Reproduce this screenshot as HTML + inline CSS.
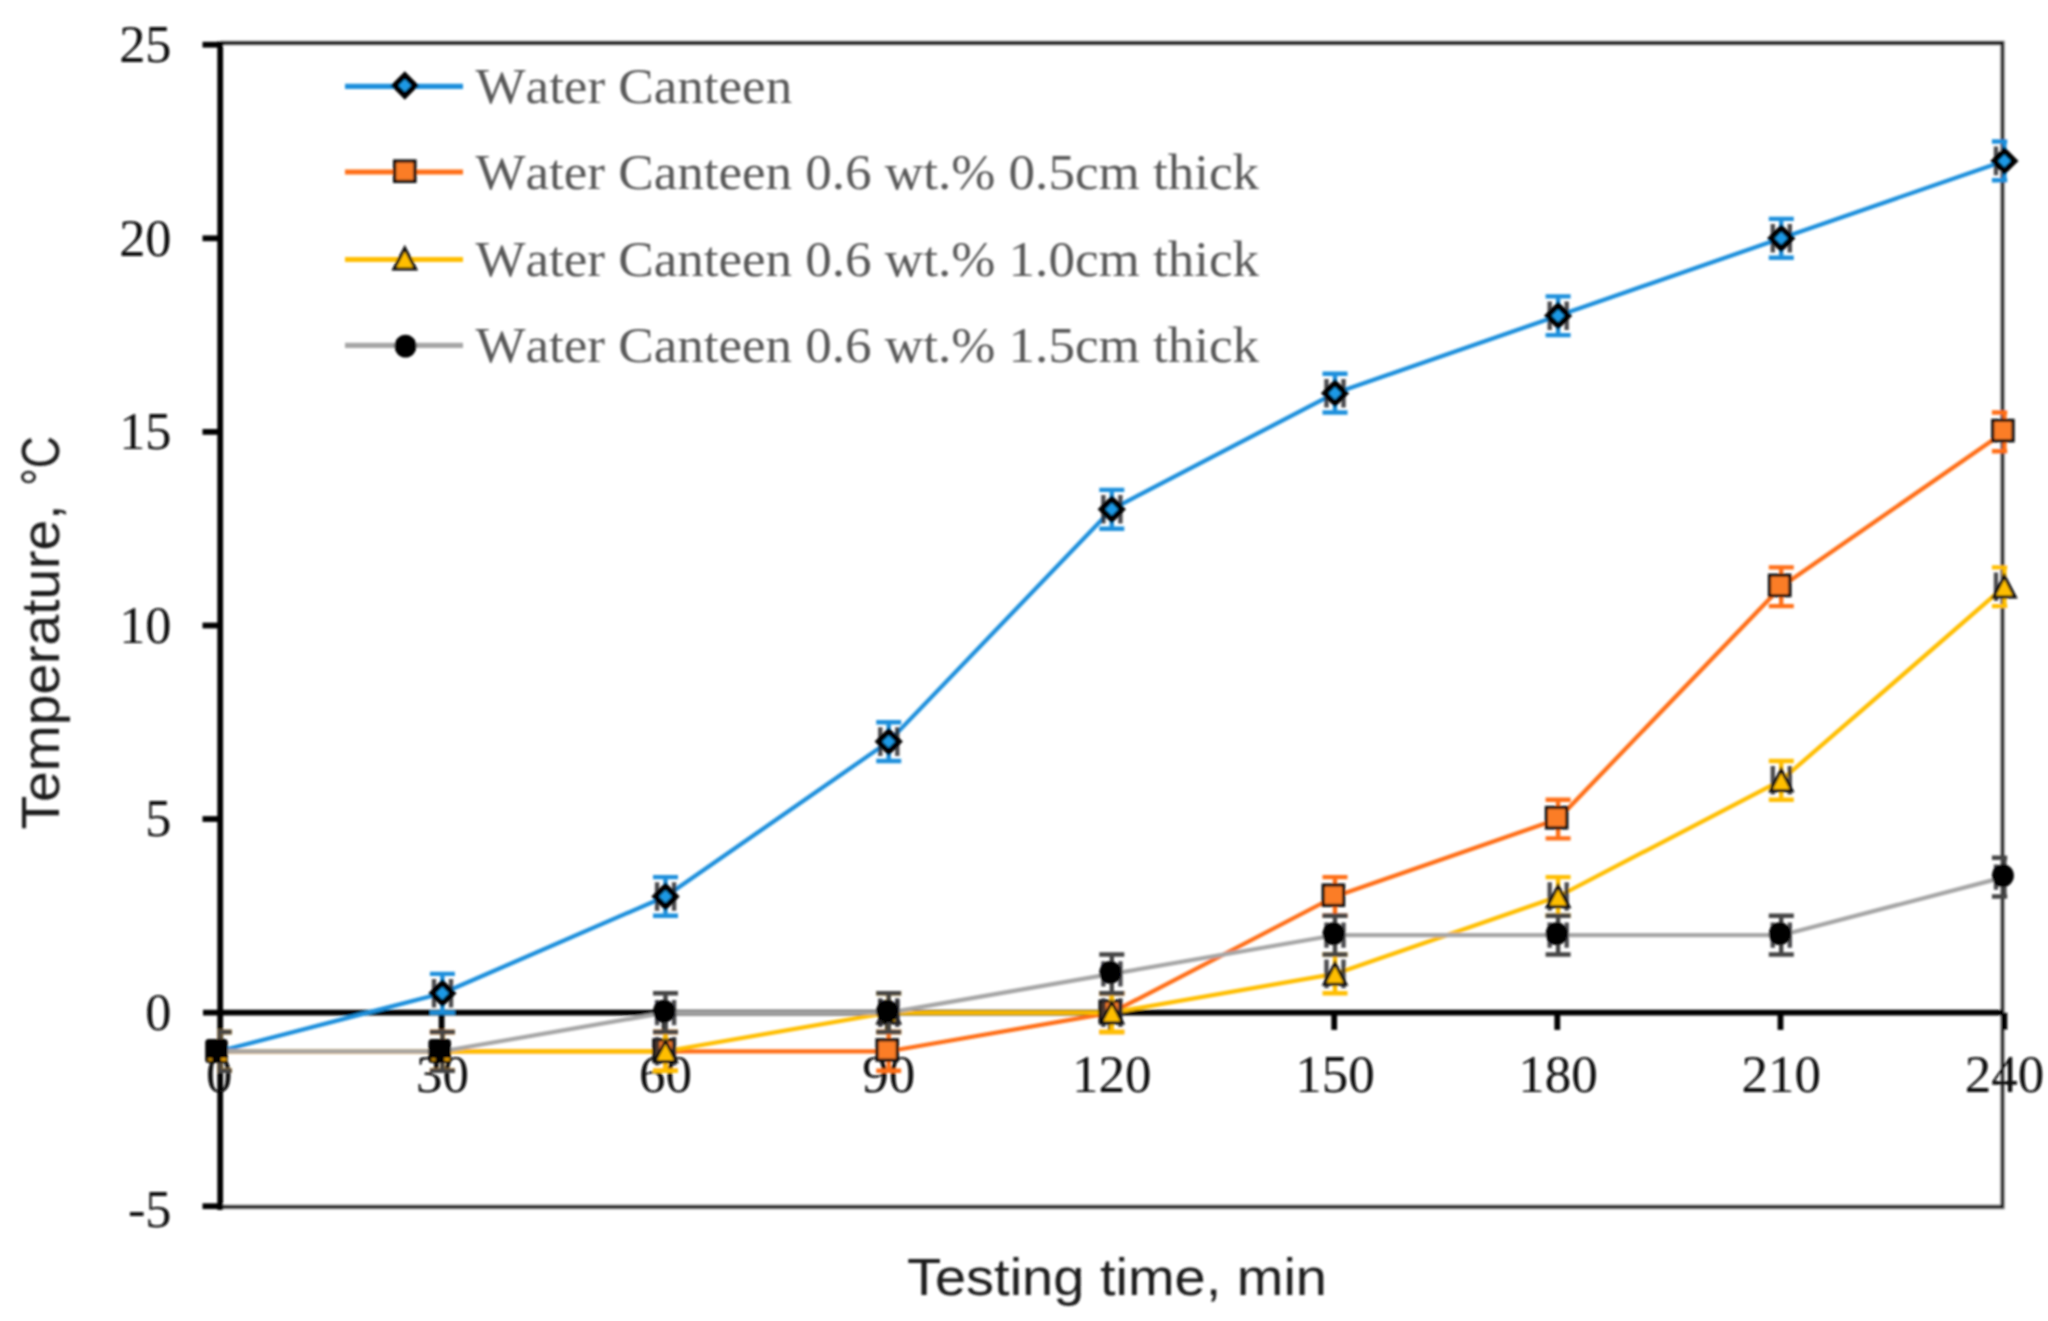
<!DOCTYPE html>
<html lang="en"><head><meta charset="utf-8"><title>Chart</title>
<style>html,body{margin:0;padding:0;background:#fff;}body{width:2048px;height:1321px;overflow:hidden;}svg{display:block;}.ser{font-family:"Liberation Serif",serif;}.san{font-family:"Liberation Sans",sans-serif;}.nk{font-kerning:none;}</style></head><body>
<svg width="2048" height="1321" viewBox="0 0 2048 1321">
<defs><clipPath id="pa"><rect x="217.7" y="0" width="1789.5" height="1321"/></clipPath><filter id="soft" x="0" y="0" width="2048" height="1321" filterUnits="userSpaceOnUse"><feGaussianBlur stdDeviation="1"/></filter></defs>
<rect width="2048" height="1321" fill="#fff"/>
<g filter="url(#soft)">
<path d="M220.2 43.0H2002.5V1206.9H220.2" fill="none" stroke="#c4c4c4" stroke-width="5.2" stroke-linejoin="miter"/>
<path d="M220.2 43.0H2002.5V1206.9H220.2" fill="none" stroke="#0a0a0a" stroke-width="3.3" stroke-linejoin="miter"/>
<g stroke="#000" stroke-width="5.8" fill="none">
<line x1="220.2" y1="41.5" x2="220.2" y2="1209.9"/>
<line x1="203.0" y1="1012.6" x2="2004.0" y2="1012.6"/>
<line x1="202.5" y1="44.7" x2="220.2" y2="44.7"/>
<line x1="202.5" y1="238.3" x2="220.2" y2="238.3"/>
<line x1="202.5" y1="431.9" x2="220.2" y2="431.9"/>
<line x1="202.5" y1="625.5" x2="220.2" y2="625.5"/>
<line x1="202.5" y1="819.0" x2="220.2" y2="819.0"/>
<line x1="202.5" y1="1206.2" x2="220.2" y2="1206.2"/>
<line x1="441.6" y1="1012.6" x2="441.6" y2="1029.9"/>
<line x1="664.7" y1="1012.6" x2="664.7" y2="1029.9"/>
<line x1="887.9" y1="1012.6" x2="887.9" y2="1029.9"/>
<line x1="1111.0" y1="1012.6" x2="1111.0" y2="1029.9"/>
<line x1="1334.2" y1="1012.6" x2="1334.2" y2="1029.9"/>
<line x1="1557.3" y1="1012.6" x2="1557.3" y2="1029.9"/>
<line x1="1780.5" y1="1012.6" x2="1780.5" y2="1029.9"/>
<line x1="2004.4" y1="1012.6" x2="2004.4" y2="1029.9"/>
</g>
<g class="ser" font-size="52.3" fill="#0a0a0a" text-anchor="end">
<text x="171.5" y="62.1">25</text>
<text x="171.5" y="255.7">20</text>
<text x="171.5" y="449.3">15</text>
<text x="171.5" y="642.9">10</text>
<text x="171.5" y="836.4">5</text>
<text x="171.5" y="1030.0">0</text>
<text x="171.5" y="1226.5">-5</text>
</g>
<g class="ser" font-size="53" fill="#0a0a0a" text-anchor="middle">
<text x="219.2" y="1092">0</text>
<text x="442.4" y="1092">30</text>
<text x="665.5" y="1092">60</text>
<text x="888.7" y="1092">90</text>
<text x="1111.8" y="1092">120</text>
<text x="1335.0" y="1092">150</text>
<text x="1558.1" y="1092">180</text>
<text x="1781.2" y="1092">210</text>
<text x="2004.4" y="1092">240</text>
</g>
<polyline points="219.2,1051.3 442.4,993.2 665.5,896.5 888.7,741.6 1111.8,509.3 1335.0,393.2 1558.1,315.7 1781.2,238.3 2004.4,160.9" fill="none" stroke="#1B8FDC" stroke-width="4.2" stroke-linejoin="round"/>
<polyline points="219.2,1051.3 442.4,1051.3 665.5,1051.3 888.7,1051.3 1111.8,1012.6 1335.0,896.5 1558.1,819.0 1781.2,586.7 2004.4,431.9" fill="none" stroke="#FF6E17" stroke-width="4.2" stroke-linejoin="round"/>
<polyline points="219.2,1051.3 442.4,1051.3 665.5,1051.3 888.7,1012.6 1111.8,1012.6 1335.0,973.9 1558.1,896.5 1781.2,780.3 2004.4,586.7" fill="none" stroke="#FFBE00" stroke-width="4.2" stroke-linejoin="round"/>
<polyline points="219.2,1051.3 442.4,1051.3 665.5,1012.6 888.7,1012.6 1111.8,973.9 1335.0,935.2 1558.1,935.2 1781.2,935.2 2004.4,877.1" fill="none" stroke="#A6A6A6" stroke-width="4.2" stroke-linejoin="round"/>
<g clip-path="url(#pa)" stroke="#1B8FDC" stroke-width="4.4" fill="none">
<path d="M219.2 1032.0V1070.7M206.7 1032.0H231.7M206.7 1070.7H231.7"/>
<path d="M442.4 973.9V1012.6M429.9 973.9H454.9M429.9 1012.6H454.9"/>
<path d="M665.5 877.1V915.8M653.0 877.1H678.0M653.0 915.8H678.0"/>
<path d="M888.7 722.2V761.0M876.2 722.2H901.2M876.2 761.0H901.2"/>
<path d="M1111.8 489.9V528.7M1099.3 489.9H1124.3M1099.3 528.7H1124.3"/>
<path d="M1335.0 373.8V412.5M1322.5 373.8H1347.5M1322.5 412.5H1347.5"/>
<path d="M1558.1 296.4V335.1M1545.6 296.4H1570.6M1545.6 335.1H1570.6"/>
<path d="M1781.2 218.9V257.7M1768.8 218.9H1793.8M1768.8 257.7H1793.8"/>
<path d="M2004.4 141.5V180.2M1991.9 141.5H2016.9M1991.9 180.2H2016.9"/>
</g>
<g>
<path clip-path="url(#pa)" d="M434.0 978.9v28.6M451.0 978.9v28.6" stroke="#2c2c30" stroke-width="4.4" opacity="0.85" fill="none"/><path d="M442.4 983.0L452.6 993.2L442.4 1003.4L432.2 993.2Z" fill="#1E9AE6" stroke="#000" stroke-width="5.6" stroke-linejoin="miter"/>
<path clip-path="url(#pa)" d="M657.1 882.2v28.6M674.1 882.2v28.6" stroke="#2c2c30" stroke-width="4.4" opacity="0.85" fill="none"/><path d="M665.5 886.3L675.7 896.5L665.5 906.7L655.3 896.5Z" fill="#1E9AE6" stroke="#000" stroke-width="5.6" stroke-linejoin="miter"/>
<path clip-path="url(#pa)" d="M880.3 727.3v28.6M897.3 727.3v28.6" stroke="#2c2c30" stroke-width="4.4" opacity="0.85" fill="none"/><path d="M888.7 731.4L898.9 741.6L888.7 751.8L878.5 741.6Z" fill="#1E9AE6" stroke="#000" stroke-width="5.6" stroke-linejoin="miter"/>
<path clip-path="url(#pa)" d="M1103.4 495.0v28.6M1120.4 495.0v28.6" stroke="#2c2c30" stroke-width="4.4" opacity="0.85" fill="none"/><path d="M1111.8 499.1L1122.0 509.3L1111.8 519.5L1101.6 509.3Z" fill="#1E9AE6" stroke="#000" stroke-width="5.6" stroke-linejoin="miter"/>
<path clip-path="url(#pa)" d="M1326.5 378.9v28.6M1343.5 378.9v28.6" stroke="#2c2c30" stroke-width="4.4" opacity="0.85" fill="none"/><path d="M1335.0 383.0L1345.2 393.2L1335.0 403.4L1324.8 393.2Z" fill="#1E9AE6" stroke="#000" stroke-width="5.6" stroke-linejoin="miter"/>
<path clip-path="url(#pa)" d="M1549.7 301.4v28.6M1566.7 301.4v28.6" stroke="#2c2c30" stroke-width="4.4" opacity="0.85" fill="none"/><path d="M1558.1 305.5L1568.3 315.7L1558.1 325.9L1547.9 315.7Z" fill="#1E9AE6" stroke="#000" stroke-width="5.6" stroke-linejoin="miter"/>
<path clip-path="url(#pa)" d="M1772.8 224.0v28.6M1789.8 224.0v28.6" stroke="#2c2c30" stroke-width="4.4" opacity="0.85" fill="none"/><path d="M1781.2 228.1L1791.5 238.3L1781.2 248.5L1771.0 238.3Z" fill="#1E9AE6" stroke="#000" stroke-width="5.6" stroke-linejoin="miter"/>
<path clip-path="url(#pa)" d="M1996.0 146.6v28.6M2013.0 146.6v28.6" stroke="#2c2c30" stroke-width="4.4" opacity="0.85" fill="none"/><path d="M2004.4 150.7L2014.6 160.9L2004.4 171.1L1994.2 160.9Z" fill="#1E9AE6" stroke="#000" stroke-width="5.6" stroke-linejoin="miter"/>
</g>
<g clip-path="url(#pa)" stroke="#FF6E17" stroke-width="4.4" fill="none">
<path d="M219.2 1032.0V1070.7M206.7 1032.0H231.7M206.7 1070.7H231.7"/>
<path d="M442.4 1032.0V1070.7M429.9 1032.0H454.9M429.9 1070.7H454.9"/>
<path d="M665.5 1032.0V1070.7M653.0 1032.0H678.0M653.0 1070.7H678.0"/>
<path d="M888.7 1032.0V1070.7M876.2 1032.0H901.2M876.2 1070.7H901.2"/>
<path d="M1111.8 993.2V1032.0M1099.3 993.2H1124.3M1099.3 1032.0H1124.3"/>
<path d="M1335.0 877.1V915.8M1322.5 877.1H1347.5M1322.5 915.8H1347.5"/>
<path d="M1558.1 799.7V838.4M1545.6 799.7H1570.6M1545.6 838.4H1570.6"/>
<path d="M1781.2 567.4V606.1M1768.8 567.4H1793.8M1768.8 606.1H1793.8"/>
<path d="M2004.4 412.5V451.2M1991.9 412.5H2016.9M1991.9 451.2H2016.9"/>
</g>
<g>
<rect x="653.8" y="1039.8" width="20.4" height="20.4" fill="#FB7D26" stroke="#0c0c0c" stroke-width="3.2"/>
<rect x="877.0" y="1039.8" width="20.4" height="20.4" fill="#FB7D26" stroke="#0c0c0c" stroke-width="3.2"/>
<rect x="1100.1" y="1001.1" width="20.4" height="20.4" fill="#FB7D26" stroke="#0c0c0c" stroke-width="3.2"/>
<rect x="1323.2" y="885.0" width="20.4" height="20.4" fill="#FB7D26" stroke="#0c0c0c" stroke-width="3.2"/>
<rect x="1546.4" y="807.5" width="20.4" height="20.4" fill="#FB7D26" stroke="#0c0c0c" stroke-width="3.2"/>
<rect x="1769.5" y="575.2" width="20.4" height="20.4" fill="#FB7D26" stroke="#0c0c0c" stroke-width="3.2"/>
<rect x="1992.7" y="420.4" width="20.4" height="20.4" fill="#FB7D26" stroke="#0c0c0c" stroke-width="3.2"/>
</g>
<g clip-path="url(#pa)" stroke="#FFBE00" stroke-width="4.4" fill="none">
<path d="M219.2 1032.0V1070.7M206.7 1032.0H231.7M206.7 1070.7H231.7"/>
<path d="M442.4 1032.0V1070.7M429.9 1032.0H454.9M429.9 1070.7H454.9"/>
<path d="M665.5 1032.0V1070.7M653.0 1032.0H678.0M653.0 1070.7H678.0"/>
<path d="M888.7 993.2V1032.0M876.2 993.2H901.2M876.2 1032.0H901.2"/>
<path d="M1111.8 993.2V1032.0M1099.3 993.2H1124.3M1099.3 1032.0H1124.3"/>
<path d="M1335.0 954.5V993.2M1322.5 954.5H1347.5M1322.5 993.2H1347.5"/>
<path d="M1558.1 877.1V915.8M1545.6 877.1H1570.6M1545.6 915.8H1570.6"/>
<path d="M1781.2 761.0V799.7M1768.8 761.0H1793.8M1768.8 799.7H1793.8"/>
<path d="M2004.4 567.4V606.1M1991.9 567.4H2016.9M1991.9 606.1H2016.9"/>
</g>
<g>
<path clip-path="url(#pa)" d="M657.1 1037.0v28.6M674.1 1037.0v28.6" stroke="#2c2c30" stroke-width="4.4" opacity="0.85" fill="none"/><path d="M665.5 1040.8L676.3 1061.6L654.7 1061.6Z" fill="#FFBE00" stroke="#0c0c0c" stroke-width="3.1" stroke-linejoin="miter"/>
<path clip-path="url(#pa)" d="M880.3 998.3v28.6M897.3 998.3v28.6" stroke="#2c2c30" stroke-width="4.4" opacity="0.85" fill="none"/><path d="M888.7 1002.1L899.5 1022.9L877.9 1022.9Z" fill="#FFBE00" stroke="#0c0c0c" stroke-width="3.1" stroke-linejoin="miter"/>
<path clip-path="url(#pa)" d="M1103.4 998.3v28.6M1120.4 998.3v28.6" stroke="#2c2c30" stroke-width="4.4" opacity="0.85" fill="none"/><path d="M1111.8 1002.1L1122.6 1022.9L1101.0 1022.9Z" fill="#FFBE00" stroke="#0c0c0c" stroke-width="3.1" stroke-linejoin="miter"/>
<path clip-path="url(#pa)" d="M1326.5 959.6v28.6M1343.5 959.6v28.6" stroke="#2c2c30" stroke-width="4.4" opacity="0.85" fill="none"/><path d="M1335.0 963.4L1345.8 984.2L1324.2 984.2Z" fill="#FFBE00" stroke="#0c0c0c" stroke-width="3.1" stroke-linejoin="miter"/>
<path clip-path="url(#pa)" d="M1549.7 882.2v28.6M1566.7 882.2v28.6" stroke="#2c2c30" stroke-width="4.4" opacity="0.85" fill="none"/><path d="M1558.1 886.0L1568.9 906.8L1547.3 906.8Z" fill="#FFBE00" stroke="#0c0c0c" stroke-width="3.1" stroke-linejoin="miter"/>
<path clip-path="url(#pa)" d="M1772.8 766.0v28.6M1789.8 766.0v28.6" stroke="#2c2c30" stroke-width="4.4" opacity="0.85" fill="none"/><path d="M1781.2 769.8L1792.0 790.6L1770.5 790.6Z" fill="#FFBE00" stroke="#0c0c0c" stroke-width="3.1" stroke-linejoin="miter"/>
<path clip-path="url(#pa)" d="M1996.0 572.4v28.6M2013.0 572.4v28.6" stroke="#2c2c30" stroke-width="4.4" opacity="0.85" fill="none"/><path d="M2004.4 576.2L2015.2 597.0L1993.6 597.0Z" fill="#FFBE00" stroke="#0c0c0c" stroke-width="3.1" stroke-linejoin="miter"/>
</g>
<g clip-path="url(#pa)" stroke="#454545" stroke-width="4.4" fill="none">
<path d="M219.2 1032.0V1070.7M206.7 1032.0H231.7M206.7 1070.7H231.7"/>
<path d="M442.4 1032.0V1070.7M429.9 1032.0H454.9M429.9 1070.7H454.9"/>
<path d="M665.5 993.2V1032.0M653.0 993.2H678.0M653.0 1032.0H678.0"/>
<path d="M888.7 993.2V1032.0M876.2 993.2H901.2M876.2 1032.0H901.2"/>
<path d="M1111.8 954.5V993.2M1099.3 954.5H1124.3M1099.3 993.2H1124.3"/>
<path d="M1335.0 915.8V954.5M1322.5 915.8H1347.5M1322.5 954.5H1347.5"/>
<path d="M1558.1 915.8V954.5M1545.6 915.8H1570.6M1545.6 954.5H1570.6"/>
<path d="M1781.2 915.8V954.5M1768.8 915.8H1793.8M1768.8 954.5H1793.8"/>
<path d="M2004.4 857.7V896.5M1991.9 857.7H2016.9M1991.9 896.5H2016.9"/>
</g>
<g>
<path clip-path="url(#pa)" d="M657.1 1000.0v25.2M674.1 1000.0v25.2" stroke="#2c2c30" stroke-width="4.4" opacity="0.85" fill="none"/><ellipse cx="664.0" cy="1011.1" rx="11" ry="11.4" fill="#000"/>
<path clip-path="url(#pa)" d="M880.3 1000.0v25.2M897.3 1000.0v25.2" stroke="#2c2c30" stroke-width="4.4" opacity="0.85" fill="none"/><ellipse cx="887.2" cy="1011.1" rx="11" ry="11.4" fill="#000"/>
<path clip-path="url(#pa)" d="M1103.4 961.3v25.2M1120.4 961.3v25.2" stroke="#2c2c30" stroke-width="4.4" opacity="0.85" fill="none"/><ellipse cx="1110.3" cy="972.4" rx="11" ry="11.4" fill="#000"/>
<path clip-path="url(#pa)" d="M1326.5 922.6v25.2M1343.5 922.6v25.2" stroke="#2c2c30" stroke-width="4.4" opacity="0.85" fill="none"/><ellipse cx="1333.5" cy="933.7" rx="11" ry="11.4" fill="#000"/>
<path clip-path="url(#pa)" d="M1549.7 922.6v25.2M1566.7 922.6v25.2" stroke="#2c2c30" stroke-width="4.4" opacity="0.85" fill="none"/><ellipse cx="1556.6" cy="933.7" rx="11" ry="11.4" fill="#000"/>
<path clip-path="url(#pa)" d="M1772.8 922.6v25.2M1789.8 922.6v25.2" stroke="#2c2c30" stroke-width="4.4" opacity="0.85" fill="none"/><ellipse cx="1779.8" cy="933.7" rx="11" ry="11.4" fill="#000"/>
<path clip-path="url(#pa)" d="M1996.0 864.5v25.2M2013.0 864.5v25.2" stroke="#2c2c30" stroke-width="4.4" opacity="0.85" fill="none"/><ellipse cx="2002.9" cy="875.6" rx="11" ry="11.4" fill="#000"/>
</g>
<rect x="205.2" y="1038.9" width="22.6" height="24.2" rx="3.5" fill="#000"/>
<rect x="208.2" y="1058.2" width="4.2" height="2.6" fill="#c98a00"/><rect x="221.1" y="1057.8" width="5.4" height="3" fill="#e29a00"/>
<rect x="428.4" y="1038.9" width="22.6" height="24.2" rx="3.5" fill="#000"/>
<rect x="431.4" y="1058.2" width="4.2" height="2.6" fill="#c98a00"/><rect x="444.3" y="1057.8" width="5.4" height="3" fill="#e29a00"/>
<line x1="345" y1="86.3" x2="463" y2="86.3" stroke="#1B8FDC" stroke-width="5.2"/>
<path d="M404.8 75.3L415.0 85.5L404.8 95.7L394.6 85.5Z" fill="#1E9AE6" stroke="#000" stroke-width="5.6" stroke-linejoin="miter"/>
<text class="ser nk" x="475.5" y="102.8" font-size="51.5" fill="#595959" textLength="316.7" lengthAdjust="spacingAndGlyphs">Water Canteen</text>
<line x1="345" y1="172.0" x2="463" y2="172.0" stroke="#FF6E17" stroke-width="5.2"/>
<rect x="394.6" y="161.0" width="20.4" height="20.4" fill="#FB7D26" stroke="#0c0c0c" stroke-width="3.2"/>
<text class="ser nk" x="475.5" y="188.8" font-size="51.5" fill="#595959" textLength="783.5" lengthAdjust="spacingAndGlyphs">Water Canteen 0.6 wt.% 0.5cm thick</text>
<line x1="345" y1="259.5" x2="463" y2="259.5" stroke="#FFBE00" stroke-width="5.2"/>
<path d="M404.8 248.2L415.6 269.0L394.0 269.0Z" fill="#FFBE00" stroke="#0c0c0c" stroke-width="3.1" stroke-linejoin="miter"/>
<text class="ser nk" x="475.5" y="276.0" font-size="51.5" fill="#595959" textLength="783.5" lengthAdjust="spacingAndGlyphs">Water Canteen 0.6 wt.% 1.0cm thick</text>
<line x1="345" y1="345.3" x2="463" y2="345.3" stroke="#A6A6A6" stroke-width="5.2"/>
<ellipse cx="405.5" cy="346.1" rx="11" ry="11.4" fill="#000"/>
<text class="ser nk" x="475.5" y="362.0" font-size="51.5" fill="#595959" textLength="783.5" lengthAdjust="spacingAndGlyphs">Water Canteen 0.6 wt.% 1.5cm thick</text>
<text class="san" x="907" y="1295" font-size="52" fill="#1a1a1a" textLength="420" lengthAdjust="spacingAndGlyphs">Testing time, min</text>
<text class="san" transform="translate(59,829.5) rotate(-90)" font-size="54" fill="#1a1a1a" textLength="325" lengthAdjust="spacingAndGlyphs">Temperature,</text>
<text class="san" transform="translate(59,486) rotate(-90)" font-size="54" fill="#1a1a1a" textLength="50" lengthAdjust="spacingAndGlyphs">°C</text>
</g></svg></body></html>
